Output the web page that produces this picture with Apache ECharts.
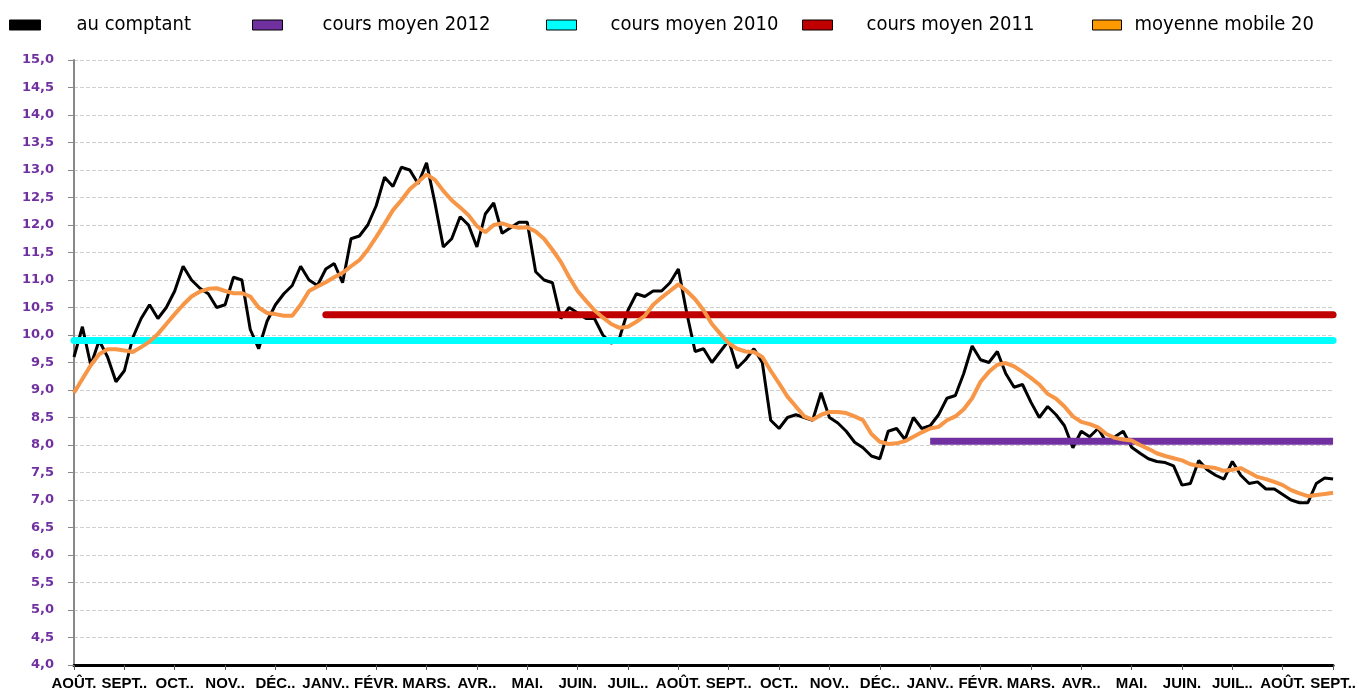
<!DOCTYPE html>
<html>
<head>
<meta charset="utf-8">
<script src="https://cdn.jsdelivr.net/npm/echarts@6/dist/echarts.min.js"></script>
<style>
  html, body { margin: 0; padding: 0; background: #fff; }
  #chart { width: 1359px; height: 693px; }
</style>
</head>
<body>
<div id="chart"></div>
<script>
// months shown on the x axis (one tick at the start of each month)
var months = ['AOÛT.', 'SEPT..', 'OCT..', 'NOV..', 'DÉC..', 'JANV..', 'FÉVR.', 'MARS.', 'AVR..', 'MAI.', 'JUIN.', 'JUIL..',
  'AOÛT.', 'SEPT..', 'OCT..', 'NOV..', 'DÉC..', 'JANV..', 'FÉVR.', 'MARS.', 'AVR..', 'MAI.', 'JUIN.', 'JUIL..', 'AOÛT.', 'SEPT..']
var perMonth = 6

// au comptant (spot price)
var spot = [
  9.6, 10.15, 9.45, 9.9, 9.6, 9.15, 9.35, 9.95, 10.3, 10.55, 10.3, 10.5,
  10.8, 11.25, 11.0, 10.85, 10.75, 10.5, 10.55, 11.05, 11.0, 10.1, 9.75, 10.25,
  10.55, 10.75, 10.9, 11.25, 11.0, 10.9, 11.2, 11.3, 10.95, 11.75, 11.8, 12.0,
  12.35, 12.87, 12.7, 13.05, 13.0, 12.75, 13.13, 12.4, 11.6, 11.75, 12.15, 12.0,
  11.6, 12.2, 12.4, 11.85, 11.95, 12.05, 12.05, 11.15, 11.0, 10.95, 10.3, 10.5,
  10.4, 10.3, 10.3, 10.0, 9.85, 9.95, 10.45, 10.75, 10.7, 10.8, 10.8, 10.95,
  11.2, 10.4, 9.7, 9.75, 9.5, 9.7, 9.9, 9.4, 9.55, 9.75, 9.5, 8.45,
  8.3, 8.5, 8.55, 8.5, 8.45, 8.95, 8.5, 8.4, 8.25, 8.05, 7.95, 7.8,
  7.75, 8.25, 8.3, 8.1, 8.5, 8.3, 8.35, 8.55, 8.85, 8.9, 9.3, 9.8,
  9.55, 9.5, 9.7, 9.3, 9.05, 9.1, 8.78, 8.5, 8.7, 8.55, 8.35, 7.95,
  8.25, 8.15, 8.3, 8.05, 8.15, 8.25, 7.96, 7.85, 7.75, 7.7, 7.68, 7.62,
  7.27, 7.3, 7.72, 7.55, 7.45, 7.38, 7.7, 7.45, 7.3, 7.33, 7.2, 7.2,
  7.1, 7.0, 6.95, 6.95, 7.3, 7.4, 7.38
]

// moyenne mobile 20
var movingAvg = [
  8.95, 9.2, 9.45, 9.65, 9.74, 9.74, 9.72, 9.69, 9.78, 9.88, 10.02, 10.2,
  10.38, 10.55, 10.7, 10.79, 10.84, 10.85, 10.8, 10.76, 10.76, 10.7, 10.5, 10.4,
  10.38, 10.35, 10.35, 10.55, 10.8, 10.88, 10.96, 11.05, 11.13, 11.25, 11.36, 11.55,
  11.78, 12.02, 12.27, 12.45, 12.65, 12.78, 12.92, 12.82, 12.62, 12.45, 12.32, 12.18,
  11.98, 11.87, 12.0, 12.03, 11.98, 11.95, 11.96, 11.88, 11.75, 11.55, 11.33, 11.05,
  10.8, 10.62, 10.45, 10.32, 10.2, 10.13, 10.15, 10.24, 10.35, 10.55, 10.68, 10.8,
  10.92, 10.8, 10.65, 10.45, 10.2, 10.02, 9.85, 9.75, 9.7, 9.69, 9.6, 9.35,
  9.12, 8.88, 8.7, 8.52, 8.46, 8.55, 8.6, 8.6, 8.58, 8.52, 8.45, 8.2,
  8.06, 8.02, 8.03, 8.07, 8.15, 8.23, 8.3, 8.33, 8.45, 8.52, 8.65, 8.85,
  9.15, 9.33, 9.46, 9.49, 9.43, 9.33, 9.22, 9.1, 8.93, 8.84, 8.7, 8.52,
  8.42, 8.38, 8.32, 8.2, 8.13, 8.1, 8.08, 8.0, 7.93, 7.85, 7.8, 7.76,
  7.72, 7.65, 7.62, 7.6, 7.58, 7.53, 7.55, 7.58, 7.5, 7.42, 7.38, 7.33,
  7.27, 7.18, 7.12, 7.07, 7.09, 7.11, 7.13
]

// yearly averages and the month index each one starts from
var avg2010 = 9.9
var avg2011 = 10.37
var avg2012 = 8.07
var start2010 = 0
var start2011 = 5 * perMonth
var start2012 = 17 * perMonth

var yTicks = { min: 4, max: 15, step: 0.5 }

var lastIdx = spot.length - 1
var categories = []
for (var i = 0; i < movingAvg.length; i++) {
  categories.push(i % perMonth === 0 ? months[i / perMonth] : '')
}

var chart = echarts.init(document.getElementById('chart'))
var legendFont = { color: '#000', fontSize: 20, fontFamily: 'DejaVu Sans Condensed, DejaVu Sans' }
// one legend per item, the spacing in the original is irregular
function legendAt (left, name, gap, color, w) {
  return {
    left: left,
    top: 10,
    selectedMode: false,
    icon: 'rect',
    itemWidth: w,
    itemHeight: 10,
    itemStyle: { borderColor: '#000', borderWidth: 1 },
    data: [{ name: name, itemStyle: { color: color, borderColor: '#000', borderWidth: 1 } }],
    textStyle: Object.assign({ padding: [0, 0, 0, gap] }, legendFont)
  }
}

var option = {
  animation: false,
  backgroundColor: '#fff',
  legend: [
    legendAt(4, 'au comptant', 31, '#000', 31),
    legendAt(247, 'cours moyen 2012', 35, '#7030A0', 30),
    legendAt(541, 'cours moyen 2010', 29, '#00FFFF', 30),
    legendAt(797, 'cours moyen 2011', 29, '#C00000', 30),
    legendAt(1087, 'moyenne mobile 20', 8, '#FF9900', 29)
  ],
  grid: { left: 74, right: 24, top: 60, bottom: 28 },
  xAxis: {
    type: 'category',
    boundaryGap: false,
    data: categories,
    axisLine: { lineStyle: { color: '#000', width: 3 } },
    axisTick: {
      length: 5,
      interval: function (idx) { return idx % perMonth === 0 },
      lineStyle: { color: '#555', width: 1 }
    },
    axisLabel: {
      interval: 0,
      margin: 11,
      color: '#000',
      fontWeight: 'bold',
      fontSize: 15,
      fontFamily: 'Liberation Sans, Arial'
    },
    splitLine: { show: false }
  },
  yAxis: {
    type: 'value',
    min: yTicks.min,
    max: yTicks.max,
    interval: yTicks.step,
    axisLine: { show: true, lineStyle: { color: '#888', width: 2 } },
    axisTick: { show: true, length: 6, lineStyle: { color: '#888' } },
    axisLabel: {
      color: '#7030A0',
      fontWeight: 'bold',
      fontSize: 13,
      fontFamily: 'DejaVu Sans',
      margin: 20,
      formatter: function (v) { return v.toFixed(1).replace('.', ',') }
    },
    splitLine: { lineStyle: { color: '#cfcfcf', type: 'dashed', width: 1 } }
  },
  series: [
    {
      name: 'au comptant',
      type: 'line',
      data: spot,
      showSymbol: false,
      lineStyle: { color: '#000', width: 3 },
      itemStyle: { color: '#000' }
    },
    {
      name: 'cours moyen 2010',
      type: 'line',
      data: [[start2010, avg2010], [lastIdx, avg2010]],
      showSymbol: false,
      lineStyle: { color: '#00FFFF', width: 7, cap: 'round' },
      itemStyle: { color: '#00FFFF' }
    },
    {
      name: 'cours moyen 2011',
      type: 'line',
      data: [[start2011, avg2011], [lastIdx, avg2011]],
      showSymbol: false,
      lineStyle: { color: '#C00000', width: 7, cap: 'round' },
      itemStyle: { color: '#C00000' }
    },
    {
      name: 'cours moyen 2012',
      type: 'line',
      data: [[start2012, avg2012], [lastIdx, avg2012]],
      showSymbol: false,
      lineStyle: { color: '#7030A0', width: 7 },
      itemStyle: { color: '#7030A0' }
    },
    {
      name: 'moyenne mobile 20',
      type: 'line',
      data: movingAvg,
      showSymbol: false,
      lineStyle: { color: '#F79646', width: 4 },
      itemStyle: { color: '#FF9900' }
    }
  ]
}
chart.setOption(option)
window.addEventListener('resize', function () {
  chart.resize()
})
</script>
</body>
</html>
